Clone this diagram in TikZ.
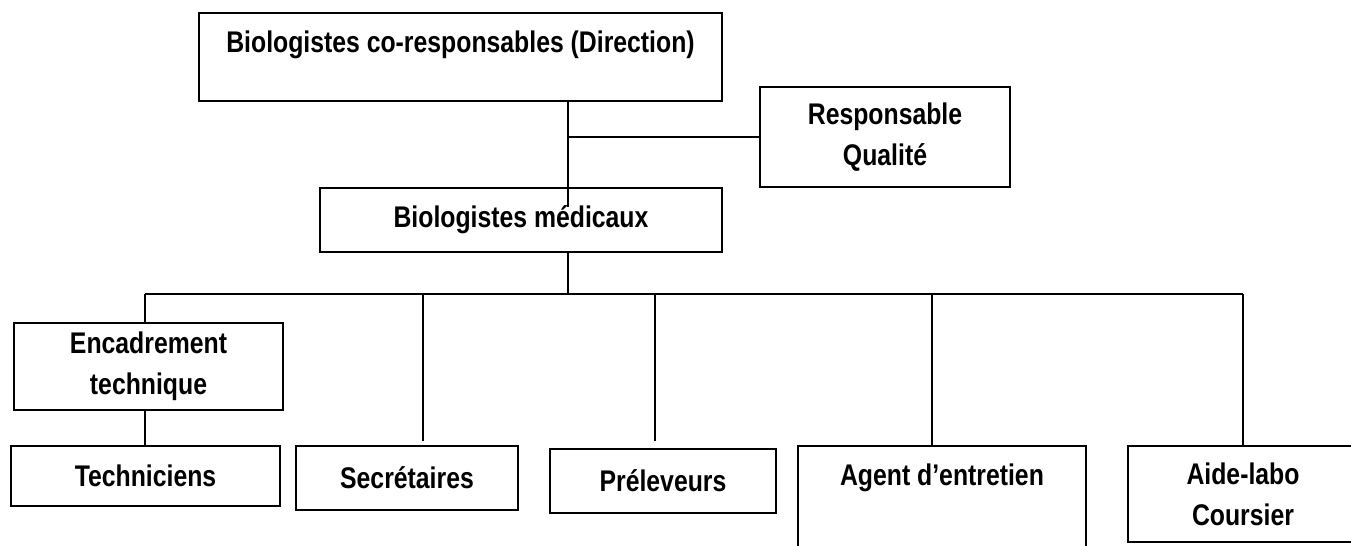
\documentclass[tikz,border=0pt]{standalone}
\usepackage{fontspec}
\setmainfont{Liberation Sans}[FakeStretch=0.83]
\begin{document}
\begin{tikzpicture}[x=0.02cm, y=-0.02cm,
		orgbox/.style={draw, line width=1.1pt, inner sep=0pt, align=center,
			font=\fontsize{17}{23.3}\selectfont\bfseries},
		link/.style={line width=1.1pt}]
	% Page
	\def\spinex{568}
	\def\busy{294}
	\clip (0,0) rectangle (1351,545);

	% Direction and quality
	\node[orgbox, minimum width=10.46cm, text height=0.78cm, text depth=0.98cm] (dir) at (460.5,57) {Biologistes co-responsables (Direction)};
	\node[orgbox, minimum width=5cm, minimum height=2cm] (qual) at (885,137) {Responsable\\Qualit\'e};
	\node[orgbox, minimum width=8.04cm, minimum height=1.28cm] (med) at (521,220) {Biologistes m\'edicaux};

	% Staff
	\node[orgbox, minimum width=5.38cm, minimum height=1.74cm] (enc) at (148.5,366.5) {Encadrement\\technique};
	\node[orgbox, minimum width=5.38cm, minimum height=1.2cm] (tech) at (145.5,476) {Techniciens};
	\node[orgbox, minimum width=4.44cm, minimum height=1.28cm] (sec) at (407,478) {Secr\'etaires};
	\node[orgbox, minimum width=4.52cm, minimum height=1.28cm] (prel) at (663,481) {Pr\'eleveurs};
	\node[orgbox, minimum width=5.76cm, text height=0.78cm, text depth=1.62cm] (agent) at (942,506) {Agent d’entretien};
	\node[orgbox, minimum width=4.6cm, minimum height=1.92cm] (aide) at (1243,494) {Aide-labo\\Coursier};

	% Links
	\coordinate (spine) at (\spinex,\busy);
	\draw[link] (dir.south -| spine) -- ([yshift=-0.4cm]med.north -| spine);
	\draw[link] (qual.west) -- (qual.west -| spine);
	\draw[link] (med.south -| spine) -- (spine);
	\draw[link] ([xshift=-0.07cm]enc.north |- spine) -- (aide.north |- spine);
	\draw[link] ([xshift=-0.07cm]enc.north |- spine) -- ([xshift=-0.07cm]enc.north);
	\draw[link] ([xshift=-0.07cm]enc.south) -- ([xshift=-0.07cm]enc.south |- tech.north);
	\draw[link, shorten >=0.08cm] ([xshift=0.32cm]sec.north |- spine) -- ([xshift=0.32cm]sec.north);
	\draw[link, shorten >=0.14cm] ([xshift=-0.16cm]prel.north |- spine) -- ([xshift=-0.16cm]prel.north);
	\draw[link] ([xshift=-0.2cm]agent.north |- spine) -- ([xshift=-0.2cm]agent.north);
	\draw[link] (aide.north |- spine) -- (aide.north);
\end{tikzpicture}
\end{document}
